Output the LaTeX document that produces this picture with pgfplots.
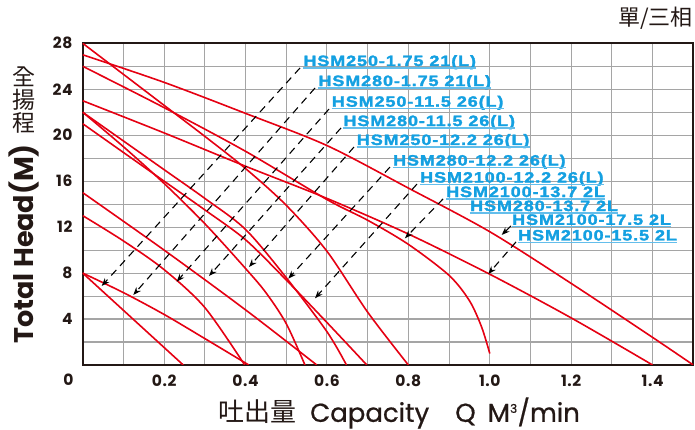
\documentclass[border=0pt]{standalone}
\usepackage{fontspec}
\usepackage{pgfplots}
\pgfplotsset{compat=1.18}
\usetikzlibrary{arrows.meta}
\setmainfont{Poppins}
\newfontfamily\cjk{Noto Sans CJK TC}
\newfontfamily\labfont{Liberation Sans}[FakeStretch=1.2,LetterSpace=6,FakeBold=2]
\newfontfamily\tickfont{Poppins}[LetterSpace=4]
\newfontfamily\xlabfont{Poppins}[FakeBold=0.7]
\definecolor{cred}{RGB}{229,0,18}
\definecolor{gridgray}{RGB}{165,165,165}
\definecolor{axblack}{RGB}{35,24,21}
\definecolor{labblue}{RGB}{20,160,225}
\definecolor{ulblue}{RGB}{100,190,235}
\newcommand{\lab}[4]{%
  \node[anchor=base west, inner sep=0pt, text=labblue, font=\labfont\bfseries\fontsize{15}{15}\selectfont] (#1) at (axis cs:#2,#3) {#4};
  \draw[ulblue, line width=1.3pt] ([yshift=-2pt]#1.base west) -- ([yshift=-2pt]#1.base east);}
\newcommand{\arr}[4]{%
  \draw[black, line width=1.1pt, dash pattern=on 7.5pt off 5.5pt, -{Stealth[length=8pt,width=6pt]}] (axis cs:#1,#2) -- (axis cs:#3,#4);}
\begin{document}
\begin{tikzpicture}[x=1pt,y=1pt]
\useasboundingbox (0,0) rectangle (695,430);
\begin{axis}[
  at={(82.7pt,65pt)}, anchor=south west,
  scale only axis, width=610.6pt, height=321.7pt,
  xmin=0, xmax=1.5, ymin=0, ymax=28,
  xtick={0.2,0.4,0.6,0.8,1.0,1.2,1.4},
  xticklabels={0.2,0.4,0.6,0.8,1.0,1.2,1.4},
  minor xtick={0.1,0.3,0.5,0.7,0.9,1.1,1.3,1.5},
  ytick={4,8,12,16,20,24,28},
  yticklabels={4,8,12,16,20,24,28},
  minor ytick={2,6,10,14,18,22,26},
  grid=both,
  major grid style={draw=gridgray, line width=1.1pt},
  minor grid style={draw=gridgray, line width=1.1pt},
  tick style={draw=none},
  axis line style={line width=1.8pt, draw=axblack},
  xticklabel style={anchor=north, inner sep=0pt, yshift=-10pt, font=\tickfont\bfseries\fontsize{15.5}{15.5}\selectfont, text=axblack},
  yticklabel style={anchor=east, inner sep=0pt, xshift=-10pt, font=\tickfont\bfseries\fontsize{15.5}{15.5}\selectfont, text=axblack},
]
% HSM2100-17.5
\addplot[cred, line width=1.6pt, smooth] coordinates {(0,27) (0.2,24.6) (0.4,21.9) (0.6,19.1) (0.8,15.4) (1.0,11.6) (1.2,7.1) (1.4,2.4) (1.5,0)};
% HSM2100-15.5
\addplot[cred, line width=1.6pt, smooth] coordinates {(0,23) (0.2,20.2) (0.4,17.3) (0.6,14.5) (0.8,11.4) (1.0,7.9) (1.2,4.1) (1.4,0)};
% 26 -> 1.0
\addplot[cred, line width=1.6pt, smooth] coordinates {(0,26) (0.2,22.4) (0.4,18.6) (0.6,14.4) (0.7,12.6) (0.8,10.5) (0.9,7.8) (0.95,5.6) (0.98,3.3) (1.0,1.0)};
% 28 -> 0.8
\addplot[cred, line width=1.6pt, smooth] coordinates {(0,28) (0.1,25.3) (0.2,22.6) (0.3,19.9) (0.4,17.1) (0.5,13.9) (0.6,9.9) (0.7,4.6) (0.8,0)};
% 22 -> 0.546
\addplot[cred, line width=1.6pt, smooth] coordinates {(0,22) (0.1,19.0) (0.2,15.8) (0.3,12.3) (0.4,8.4) (0.45,6.3) (0.5,3.6) (0.546,0)};
% 22 -> 0.648
\addplot[cred, line width=1.6pt, smooth] coordinates {(0,22) (0.1,19.5) (0.2,17.0) (0.3,14.5) (0.4,11.8) (0.5,7.6) (0.6,2.9) (0.648,0)};
% 21 -> 0.698
\addplot[cred, line width=1.6pt, smooth] coordinates {(0,21) (0.1,18.5) (0.2,16.0) (0.3,13.5) (0.4,10.9) (0.5,7.4) (0.6,3.7) (0.698,0)};
% 15 -> 0.575
\addplot[cred, line width=1.6pt, smooth] coordinates {(0,15) (0.2,10.0) (0.4,4.8) (0.575,0)};
% 13 -> 0.398
\addplot[cred, line width=1.6pt, smooth] coordinates {(0,13) (0.1,10.8) (0.2,8.3) (0.3,5.0) (0.398,0)};
% 8 -> 0.408
\addplot[cred, line width=1.6pt, smooth] coordinates {(0,8) (0.1,6.3) (0.2,4.4) (0.3,2.3) (0.408,0)};
% 8 -> 0.247
\addplot[cred, line width=1.6pt] coordinates {(0,8) (0.247,0)};

\arr{0.5338}{25.85}{0.0467}{6.876}
\arr{0.5707}{24.11}{0.1243}{6.093}
\arr{0.6051}{22.28}{0.2309}{7.250}
\arr{0.6345}{20.63}{0.3103}{7.746}
\arr{0.6664}{18.97}{0.4085}{8.530}
\arr{0.7549}{17.23}{0.5051}{7.511}
\arr{0.8212}{15.75}{0.5707}{5.806}
\arr{0.8851}{14.45}{0.7917}{11.03}
\arr{1.0521}{12.10}{1.0293}{11.32}
\arr{1.0644}{10.71}{0.9964}{7.921}

\lab{L1}{0.5419}{26.02}{HSM250-1.75 21(L)}
\lab{L2}{0.5788}{24.28}{HSM280-1.75 21(L)}
\lab{L3}{0.6117}{22.48}{HSM250-11.5 26(L)}
\lab{L4}{0.6402}{20.80}{HSM280-11.5 26(L)}
\lab{L5}{0.6731}{19.15}{HSM250-12.2 26(L)}
\lab{L6}{0.7620}{17.36}{HSM280-12.2 26(L)}
\lab{L7}{0.8286}{15.88}{HSM2100-12.2 26(L)}
\lab{L8}{0.8925}{14.62}{HSM2100-13.7 2L}
\lab{L9}{0.9514}{13.40}{HSM280-13.7 2L}
\lab{L10}{1.0546}{12.20}{HSM2100-17.5 2L}
\lab{L11}{1.0693}{10.84}{HSM2100-15.5 2L}
\end{axis}
\node[inner sep=0pt, text=axblack, font=\tickfont\bfseries\fontsize{15.5}{15.5}\selectfont] at (68.5,50) {0};
\node[inner sep=0pt, rotate=90, text=axblack, font=\bfseries\fontsize{27}{27}\selectfont] at (24,186) {Total Head(M)};
\node[inner sep=0pt, text=axblack, align=center, font=\cjk\fontsize{23}{23}\selectfont] at (24,330) {全\\揚\\程};
\node[inner sep=0pt, text=axblack, font=\xlabfont\fontsize{26}{26}\selectfont] at (399,17) {{\cjk 吐出量}\hspace{14pt}Capacity\hspace{26pt}Q\hspace{12pt}M\textsuperscript{\fontsize{12}{12}\selectfont 3}/min};
\node[inner sep=0pt, anchor=east, text=axblack, font=\cjk\fontsize{22}{22}\selectfont] at (693,412) {單/三相};
\end{tikzpicture}
\end{document}
